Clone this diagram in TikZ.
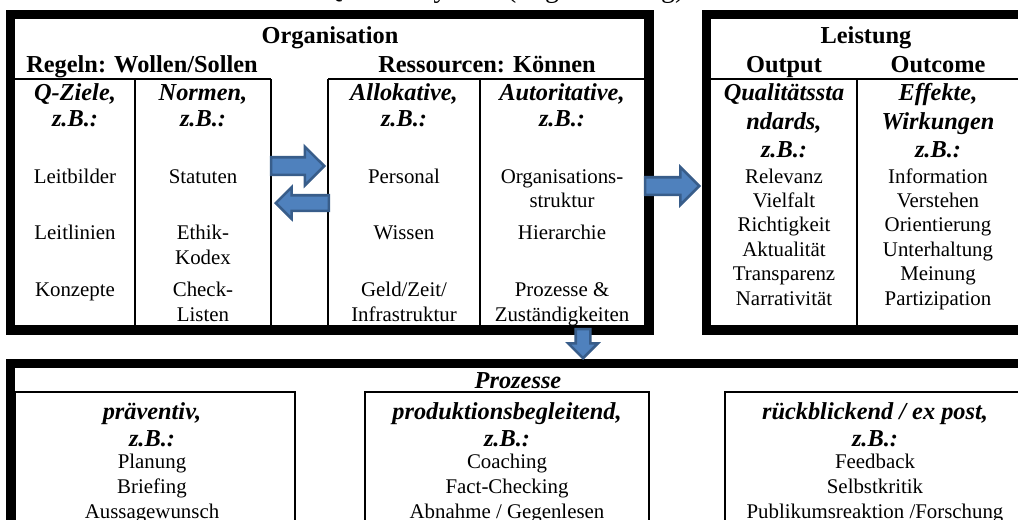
\documentclass[tikz,border=0pt]{standalone}
\usepackage{fontspec}
\setmainfont{Liberation Serif}
\usetikzlibrary{shapes.arrows}
\definecolor{flowfill}{HTML}{4F81BD}
\definecolor{flowline}{HTML}{385D8A}
\newcommand\pxl{0.575pt}
\tikzset{
    frame/.style={draw=black, line width=5.2pt},
    rule/.style={draw=black, line width=1.2pt},
    head/.style={anchor=base, inner sep=0pt, font=\fontsize{14}{16}\selectfont\bfseries},
    kind/.style={anchor=base, inner sep=0pt, font=\fontsize{14}{16}\selectfont\bfseries\itshape},
    item/.style={anchor=base, inner sep=0pt, font=\fontsize{12}{14}\selectfont},
    % shaft, head width, length
    flow/.style n args={3}{single arrow, draw=flowline, fill=flowfill, line width=1.5pt,
        inner sep=#1/2*\pxl, single arrow head extend=(#2-#1)/2*\pxl,
        minimum height=#3*\pxl, anchor=tip},
}

\begin{document}
\begin{tikzpicture}[x=\pxl, y=-\pxl]
    \useasboundingbox (0,0) rectangle (1018,519);

    % title line, cut off by the page
    \node[anchor=base west, inner sep=0pt, font=\fontsize{16}{18}\selectfont] (title) at (322,-3) {Qualitätssystem (Organisierung)};

    % the three frames
    \draw[frame] (10.5,14.5) rectangle (649,330);
    \draw[frame] (706.5,14.5) rectangle (1030,330);
    \draw[frame] (10.5,363.5) rectangle (1030,600);

    % Organisation
    \node[head] (org) at (330,43) {Organisation};
    \node[head] (rules) at (142,72) {Regeln: Wollen/Sollen};
    \node[head] (res) at (487,72) {Ressourcen: Können};
    \draw[rule] (8,79) -- (271,79) (328,79) -- (645,79);
    \foreach \x in {135,271,328,480}
        \draw[rule] (\x,79) -- (\x,326);
    \foreach \x/\t/\n in {75/Q-Ziele/goals, 203/Normen/norms, 404/Allokative/alloc, 562/Autoritative/auth} {
        \node[kind] (\n) at (\x,100) {\t,};
        \node[kind] (\n-eg) at (\x,126) {z.B.:};
    }
    \node[item] (g1) at (75,183) {Leitbilder};
    \node[item] (g2) at (75,239) {Leitlinien};
    \node[item] (g3) at (75,296) {Konzepte};
    \node[item] (n1) at (203,183) {Statuten};
    \node[item] (n2) at (203,239) {Ethik-};
    \node[item] (n2b) at (203,264) {Kodex};
    \node[item] (n3) at (203,296) {Check-};
    \node[item] (n3b) at (203,321) {Listen};
    \node[item] (a1) at (404,183) {Personal};
    \node[item] (a2) at (404,239) {Wissen};
    \node[item] (a3) at (404,296) {Geld/Zeit/};
    \node[item] (a3b) at (404,321) {Infrastruktur};
    \node[item] (u1) at (562,183) {Organisations-};
    \node[item] (u1b) at (562,207) {struktur};
    \node[item] (u2) at (562,239) {Hierarchie};
    \node[item] (u3) at (562,296) {Prozesse \&};
    \node[item] (u3b) at (562,321) {Zuständigkeiten};

    % Leistung
    \node[head] (perf) at (866,43) {Leistung};
    \node[head] (output) at (784,72) {Output};
    \node[head] (outcome) at (938,72) {Outcome};
    \draw[rule] (711,79) -- (1030,79) (857,79) -- (857,326);
    \node[kind] (std) at (784,100) {Qualitätssta};
    \node[kind] (std2) at (784,129) {ndards,};
    \node[kind] (std-eg) at (784,157) {z.B.:};
    \node[kind] (eff) at (938,100) {Effekte,};
    \node[kind] (eff2) at (938,129) {Wirkungen};
    \node[kind] (eff-eg) at (938,157) {z.B.:};
    \foreach \t [count=\i from 0] in {Relevanz, Vielfalt, Richtigkeit, Aktualität, Transparenz, Narrativität}
        \node[item] (out\i) at (784,183+24.4*\i) {\t};
    \foreach \t [count=\i from 0] in {Information, Verstehen, Orientierung, Unterhaltung, Meinung, Partizipation}
        \node[item] (eff\i) at (938,183+24.4*\i) {\t};

    % Prozesse
    \node[kind] (proc) at (518,388) {Prozesse};
    \draw[rule] (15,392) rectangle (295,560);
    \draw[rule] (365,392) rectangle (649,560);
    \draw[rule] (725,392) rectangle (1025,560);
    \node[kind] (pre) at (152,419) {präventiv,};
    \node[kind] (during) at (507,419) {produktionsbegleitend,};
    \node[kind] (post) at (875,419) {rückblickend / ex post,};
    \foreach \x/\n in {152/pre, 507/during, 875/post}
        \node[kind] (\n-eg) at (\x,446) {z.B.:};
    \foreach \t [count=\i from 0] in {Planung, Briefing, Aussagewunsch}
        \node[item] (pre\i) at (152,468+25*\i) {\t};
    \foreach \t [count=\i from 0] in {Coaching, Fact-Checking, Abnahme / Gegenlesen}
        \node[item] (during\i) at (507,468+25*\i) {\t};
    \foreach \t [count=\i from 0] in {Feedback, Selbstkritik, Publikumsreaktion /Forschung}
        \node[item] (post\i) at (875,468+25*\i) {\t};

    % block arrows
    \node[flow={15}{36}{53}] (rulestores) at (326,166) {};
    \node[flow={13}{29}{53}, shape border rotate=180] (restorules) at (274,203) {};
    \node[flow={15}{35}{54}] (orgtoperf) at (701,186) {};
    \node[flow={12}{27}{29}, shape border rotate=270] (orgtoproc) at (583,360) {};
\end{tikzpicture}
\end{document}
